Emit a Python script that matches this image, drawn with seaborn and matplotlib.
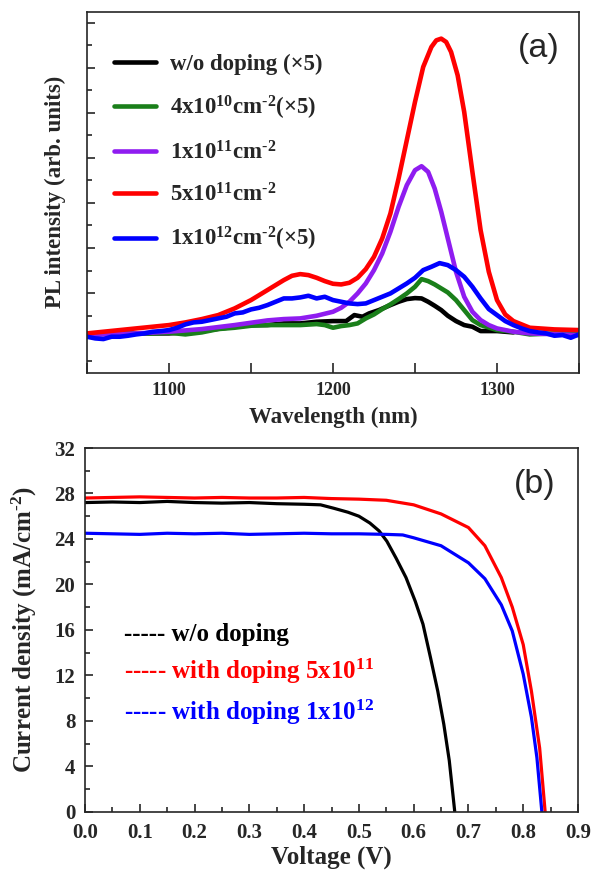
import numpy as np
import seaborn as sns
import matplotlib.pyplot as plt
from matplotlib.ticker import MultipleLocator, FixedLocator, NullFormatter

# ---- panel (a): PL spectra (arb. units) ----
wl_black = [1050, 1080, 1100, 1120, 1140, 1150, 1160, 1170, 1180, 1190, 1200, 1208, 1213, 1218,
            1222, 1228, 1235, 1240, 1245, 1250, 1254, 1258, 1262, 1266, 1270, 1275, 1280, 1285,
            1290, 1295, 1300, 1310]
pl_black = [0.05, 0.05, 0.05, 0.12, 0.25, 0.3, 0.3, 0.35, 0.35, 0.4, 0.42, 0.42, 0.6, 0.55,
            0.65, 0.75, 0.9, 1.0, 1.08, 1.11, 1.1, 1.0, 0.88, 0.75, 0.58, 0.42, 0.3, 0.25,
            0.12, 0.12, 0.12, 0.08]

wl_green = [1050, 1070, 1090, 1100, 1110, 1120, 1130, 1140, 1150, 1160, 1170, 1180, 1190, 1195,
            1200, 1205, 1210, 1215, 1220, 1225, 1230, 1235, 1240, 1245, 1250, 1254, 1258, 1262,
            1266, 1270, 1275, 1280, 1285, 1290, 1300, 1310, 1320, 1335, 1350]
pl_green = [0.05, 0.05, 0.05, 0.07, 0.02, 0.08, 0.18, 0.22, 0.28, 0.3, 0.3, 0.3, 0.33, 0.3,
            0.22, 0.27, 0.3, 0.35, 0.5, 0.62, 0.78, 0.92, 1.08, 1.25, 1.45, 1.68, 1.62, 1.52,
            1.4, 1.28, 1.05, 0.75, 0.45, 0.3, 0.15, 0.1, 0.02, 0.05, 0.05]

wl_purple = [1050, 1080, 1100, 1120, 1140, 1150, 1160, 1170, 1180, 1190, 1200, 1205, 1210, 1215,
             1220, 1225, 1230, 1235, 1240, 1245, 1250, 1254, 1258, 1262, 1266, 1270, 1275, 1280,
             1285, 1290, 1295, 1300, 1310, 1320, 1350]
pl_purple = [0.0, 0.05, 0.1, 0.18, 0.3, 0.37, 0.44, 0.48, 0.5, 0.58, 0.7, 0.82, 1.0, 1.25,
             1.55, 1.95, 2.45, 3.1, 3.85, 4.5, 4.95, 5.07, 4.9, 4.4, 3.7, 2.9, 1.9, 1.15,
             0.7, 0.45, 0.3, 0.2, 0.1, 0.05, 0.0]

wl_red = [1050, 1070, 1090, 1100, 1110, 1120, 1130, 1140, 1150, 1160, 1170, 1175, 1180, 1185,
          1190, 1195, 1200, 1205, 1210, 1215, 1220, 1225, 1230, 1235, 1240, 1245, 1250, 1255,
          1260, 1263, 1266, 1269, 1272, 1276, 1280, 1285, 1290, 1295, 1300, 1305, 1310, 1320,
          1335, 1350]
pl_red = [0.05, 0.15, 0.25, 0.3, 0.38, 0.48, 0.6, 0.8, 1.05, 1.35, 1.65, 1.78, 1.83, 1.8,
          1.72, 1.62, 1.54, 1.52, 1.57, 1.72, 1.98, 2.35, 2.9, 3.65, 4.7, 5.85, 7.0, 8.05,
          8.65, 8.85, 8.9, 8.8, 8.5, 7.8, 6.7, 4.9, 3.15, 1.9, 1.05, 0.62, 0.42, 0.22,
          0.17, 0.15]

wl_blue = [1050, 1055, 1060, 1065, 1070, 1075, 1080, 1085, 1090, 1095, 1100, 1105, 1110, 1115,
           1120, 1125, 1130, 1135, 1140, 1145, 1150, 1155, 1160, 1165, 1170, 1175, 1180, 1185,
           1190, 1195, 1200, 1205, 1210, 1215, 1220, 1225, 1230, 1235, 1240, 1245, 1250, 1255,
           1260, 1265, 1270, 1275, 1280, 1285, 1290, 1295, 1300, 1305, 1310, 1315, 1320, 1325,
           1330, 1335, 1340, 1345, 1350]
pl_blue = [-0.05, -0.1, -0.12, -0.05, -0.05, -0.02, 0.02, 0.05, 0.1, 0.12, 0.15, 0.22, 0.32, 0.38,
           0.4, 0.45, 0.5, 0.55, 0.65, 0.68, 0.77, 0.82, 0.9, 1.0, 1.1, 1.1, 1.13, 1.18,
           1.1, 1.15, 1.05, 1.0, 0.95, 0.93, 0.95, 1.05, 1.15, 1.25, 1.4, 1.55, 1.72, 1.95,
           2.05, 2.16, 2.1, 1.95, 1.75, 1.45, 1.1, 0.78, 0.6, 0.42, 0.3, 0.2, 0.12, 0.08,
           0.05, -0.02, 0.0, -0.08, 0.02]

pl_labels = ["w/o doping (\u00d75)",
             "4x10$^{10}$cm$^{\\text{-}2}$(\u00d75)",
             "1x10$^{11}$cm$^{\\text{-}2}$",
             "5x10$^{11}$cm$^{\\text{-}2}$",
             "1x10$^{12}$cm$^{\\text{-}2}$(\u00d75)"]
pl_colors = ["black", "#1a7f1a", "#8f1cf0", "#ff0000", "#0000ff"]

# ---- panel (b): J-V curves ----
v_black = [0.0, 0.05, 0.1, 0.15, 0.2, 0.25, 0.3, 0.35, 0.4, 0.43, 0.454, 0.48, 0.5, 0.52,
           0.537, 0.551, 0.568, 0.586, 0.603, 0.617, 0.631, 0.644, 0.655, 0.665, 0.675]
j_black = [27.2, 27.25, 27.2, 27.3, 27.2, 27.15, 27.2, 27.1, 27.05, 27.0, 26.7, 26.35, 26.0, 25.4,
           24.7, 23.8, 22.3, 20.6, 18.5, 16.5, 13.5, 10.6, 7.7, 4.5, 0.0]

v_red = [0.0, 0.05, 0.1, 0.15, 0.2, 0.25, 0.3, 0.35, 0.4, 0.45, 0.5, 0.55, 0.6, 0.65,
         0.7, 0.73, 0.76, 0.78, 0.8, 0.815, 0.83, 0.84]
j_red = [27.6, 27.65, 27.7, 27.65, 27.6, 27.65, 27.6, 27.6, 27.65, 27.55, 27.5, 27.4, 27.0, 26.2,
         25.0, 23.4, 20.6, 18.0, 14.7, 10.6, 5.6, 0.0]

v_blue = [0.0, 0.05, 0.1, 0.15, 0.2, 0.25, 0.3, 0.35, 0.4, 0.45, 0.5, 0.55, 0.58, 0.6,
          0.65, 0.7, 0.73, 0.76, 0.78, 0.8, 0.815, 0.825, 0.834]
j_blue = [24.5, 24.45, 24.4, 24.5, 24.45, 24.5, 24.4, 24.45, 24.5, 24.45, 24.45, 24.4, 24.35, 24.1,
          23.4, 21.9, 20.5, 18.2, 15.9, 12.1, 8.3, 4.75, 0.0]

jv_labels = ["----- w/o doping", "----- with doping 5x10$^{11}$", "----- with doping 1x10$^{12}$"]
jv_colors = ["black", "#ff0000", "#0000ff"]

sns.set_style("ticks")
plt.rcParams['font.family'] = ['Liberation Serif', 'DejaVu Serif']
plt.rcParams['font.weight'] = 'bold'
plt.rcParams['axes.labelweight'] = 'bold'
plt.rcParams['mathtext.fontset'] = 'custom'
plt.rcParams['mathtext.rm'] = 'Liberation Serif:bold'
plt.rcParams['mathtext.it'] = 'Liberation Serif:bold'
plt.rcParams['mathtext.bf'] = 'Liberation Serif:bold'
plt.rcParams['mathtext.default'] = 'rm'

W, H = 595, 872
fig = plt.figure(figsize=(W / 100, H / 100), dpi=100)
ax1 = fig.add_axes([87 / W, 1 - 372.7 / H, (579 - 87) / W, (372.7 - 12) / H])
ax2 = fig.add_axes([85 / W, 1 - 811.7 / H, (578 - 85) / W, (811.7 - 448) / H])

# (a)
series_a = [(wl_black, pl_black), (wl_green, pl_green), (wl_purple, pl_purple),
            (wl_red, pl_red), (wl_blue, pl_blue)]
for (x, y), lab, c in zip(series_a, pl_labels, pl_colors):
    sns.lineplot(x=x, y=y, ax=ax1, color=c, lw=3.3, label=lab, sort=False)

ax1.set_xlim(1050, 1350)
ax1.set_ylim(-1.13, 9.7)
ax1.xaxis.set_major_locator(MultipleLocator(100))
ax1.xaxis.set_minor_locator(MultipleLocator(50))
ax1.yaxis.set_major_locator(FixedLocator(np.arange(-0.09, 9.7, 1.352)))
ax1.yaxis.set_minor_locator(FixedLocator(np.arange(-0.09 - 0.676, 9.7, 1.352)))
ax1.yaxis.set_major_formatter(NullFormatter())
ax1.tick_params(axis='x', which='both', direction='in', length=7, width=1.2, labelsize=13, pad=7)
ax1.tick_params(axis='y', which='major', direction='in', length=6, width=1.2)
ax1.tick_params(axis='y', which='minor', direction='in', length=3.5, width=1.2)
ax1.set_xlabel("Wavelength (nm)", fontsize=16.5, fontweight='bold', labelpad=5)
ax1.set_ylabel("PL intensity (arb. units)", fontsize=16.5, fontweight='bold')
ax1.yaxis.set_label_coords((66 - 87) / 492, 0.5)
for t in ax1.get_xticklabels():
    t.set_fontweight('bold')
for s in ax1.spines.values():
    s.set_linewidth(1.2)
ax1.text(0.96, 0.9, "(a)", transform=ax1.transAxes, ha='right', va='center',
         fontsize=24.5, fontweight='normal', family='Liberation Sans')
ax1.legend(loc='upper left', bbox_to_anchor=(0.055, 0.885), frameon=False, fontsize=16.5,
           handlelength=1.85, handletextpad=0.6, labelspacing=0.83, borderpad=0, borderaxespad=0)

# (b)
series_b = [(v_black, j_black), (v_red, j_red), (v_blue, j_blue)]
for (x, y), lab, c in zip(series_b, jv_labels, jv_colors):
    sns.lineplot(x=x, y=y, ax=ax2, color=c, lw=2.3, label=lab, sort=False)

ax2.set_xlim(0, 0.9)
ax2.set_ylim(0, 32)
ax2.xaxis.set_major_locator(MultipleLocator(0.1))
ax2.xaxis.set_minor_locator(MultipleLocator(0.05))
ax2.yaxis.set_major_locator(MultipleLocator(4))
ax2.yaxis.set_minor_locator(MultipleLocator(2))
ax2.xaxis.set_major_formatter(plt.FuncFormatter(lambda v, p: f"{v:.1f}"))
ax2.tick_params(which='major', direction='in', length=6, width=1.2, labelsize=15)
ax2.tick_params(which='minor', direction='in', length=3.5, width=1.2)
ax2.tick_params(axis='x', pad=8)
ax2.tick_params(axis='y', pad=7)
ax2.set_xlabel("Voltage (V)", fontsize=18, fontweight='bold', labelpad=2)
ax2.set_ylabel("Current density (mA/cm$^{\\text{-}2}$)", fontsize=18, fontweight='bold')
ax2.yaxis.set_label_coords((39 - 85) / 493, 0.5)
for t in ax2.get_xticklabels() + ax2.get_yticklabels():
    t.set_fontweight('bold')
for s in ax2.spines.values():
    s.set_linewidth(1.2)
ax2.text(0.955, 0.9, "(b)", transform=ax2.transAxes, ha='right', va='center',
         fontsize=24.5, fontweight='normal', family='Liberation Sans')
leg = ax2.legend(loc='upper left', bbox_to_anchor=(0.08, 0.52), frameon=False, fontsize=18,
                 handlelength=0, handletextpad=0, labelspacing=0.45, borderpad=0,
                 borderaxespad=0, labelcolor=jv_colors)
for h in leg.legend_handles:
    h.set_visible(False)

fig.savefig("out.png", dpi=100)
